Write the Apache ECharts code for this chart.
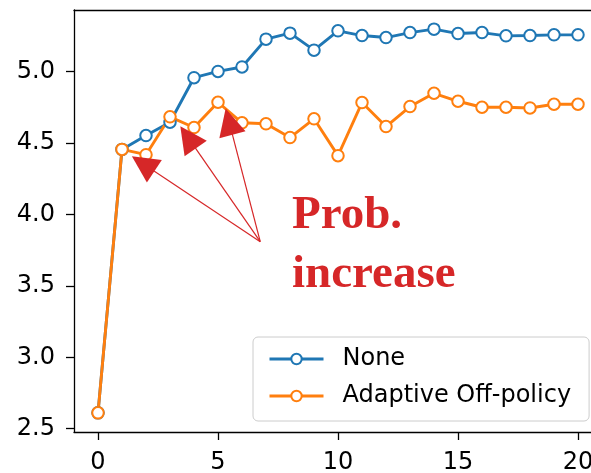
<!DOCTYPE html>
<html><head><meta charset="utf-8">
<script src="https://cdn.jsdelivr.net/npm/echarts@6/dist/echarts.min.js"></script>
<style>html,body{margin:0;padding:0;background:#fff}#c{width:591px;height:473px}</style>
</head><body><div id="c"></div>
<script>
const steps = [0,1,2,3,4,5,6,7,8,9,10,11,12,13,14,15,16,17,18,19,20];
const noneVals = [2.611,4.456,4.553,4.646,4.958,5.002,5.033,5.228,5.270,5.151,5.286,5.253,5.239,5.274,5.298,5.267,5.274,5.251,5.253,5.258,5.258];
const adaptiveVals = [2.611,4.456,4.419,4.684,4.609,4.786,4.642,4.635,4.539,4.670,4.412,4.784,4.616,4.756,4.849,4.793,4.751,4.751,4.746,4.772,4.772];
const xTicks = [0,5,10,15,20];
const yTicks = [2.5,3.0,3.5,4.0,4.5,5.0];
const seriesNames = ['None','Adaptive Off-policy'];
const arrowFrom = [6.76, 3.81];
const arrowTo = [[1.88, 4.355],[3.75, 4.54],[5.46, 4.65]];
const annotText = ['Prob.','increase'];

const red = '#d62728';
const font = 'DejaVu Sans';
const chart = echarts.init(document.getElementById('c'), null, {renderer:'canvas'});
const mk = (vals) => steps.map((s,i)=>[s, vals[i]]);
const baseSeries = (name, color, vals) => ({
  name, type:'line', data: mk(vals), symbol:'emptyCircle', symbolSize:11.5,
  lineStyle:{color, width:2.9}, itemStyle:{color, borderColor:color, borderWidth:2},
  emphasis:{disabled:true}
});
const s2 = baseSeries(seriesNames[1], '#ff7f0e', adaptiveVals);
s2.markLine = {
  silent:true, animation:false, label:{show:false},
  lineStyle:{color:red, width:1.2, type:'solid'},
  itemStyle:{color:red},
  data: arrowTo.map(t => [
    {coord: arrowFrom, symbol:'none'},
    {coord: t, symbol:'triangle', symbolSize:27}
  ])
};
const xMin = -1, xMax = -1 + 517/24;
chart.setOption({
  animation:false,
  grid:{left:74, top:10, width:517, height:422, outerBoundsMode:'none', containLabel:false},
  xAxis:[{type:'value', min:xMin, max:xMax,
    axisLine:{onZero:false, lineStyle:{color:'#000', width:1.3}},
    axisTick:{customValues:xTicks, length:8, lineStyle:{color:'#000', width:1.3}},
    axisLabel:{customValues:xTicks, margin:19, fontSize:24, fontFamily:font, color:'#000'},
    splitLine:{show:false}},
   {type:'value', position:'top', min:xMin, max:xMax,
    axisLine:{onZero:false, lineStyle:{color:'#000', width:1.3}},
    axisTick:{show:false}, axisLabel:{show:false}, splitLine:{show:false}}],
  yAxis:{type:'value', min:2.477, max:5.432,
    axisLine:{show:true, onZero:false, lineStyle:{color:'#000', width:1.3}},
    axisTick:{show:true, customValues:yTicks, length:8, lineStyle:{color:'#000', width:1.3}},
    axisLabel:{customValues:yTicks, margin:19, fontSize:24, fontFamily:font, color:'#000', formatter:v=>v.toFixed(1)},
    splitLine:{show:false}},
  legend:{orient:'vertical', left:253, top:337, data:seriesNames,
    itemWidth:54, itemHeight:13, itemGap:13,
    padding:[10,18,13,15],
    lineStyle:{width:3},
    backgroundColor:'rgba(255,255,255,0.8)', borderColor:'#cccccc', borderWidth:1, borderRadius:5,
    textStyle:{fontSize:24, fontFamily:font, color:'#000', padding:[0,0,0,14]}},
  graphic:[
    {type:'text', left:292, top:192, style:{text:annotText[0], fill:red, font:'bold 47px "Liberation Serif"'}},
    {type:'text', left:292, top:251, style:{text:annotText[1], fill:red, font:'bold 47px "Liberation Serif"'}}
  ],
  series:[ baseSeries(seriesNames[0], '#1f77b4', noneVals), s2 ]
});
</script></body></html>
